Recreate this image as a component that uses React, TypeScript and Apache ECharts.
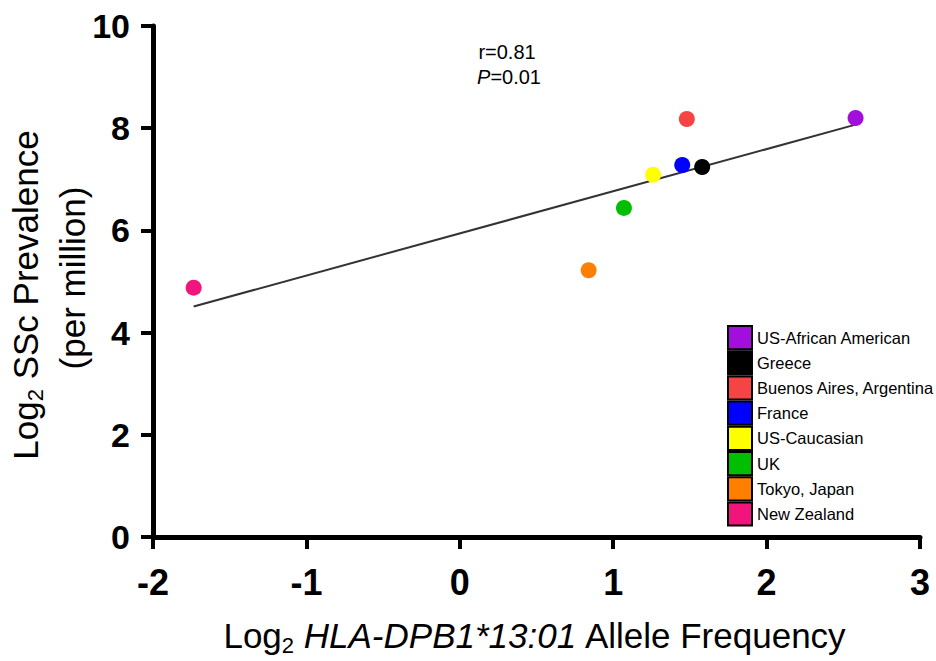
import React, { useEffect, useRef } from "react";
import * as echarts from "echarts";

const populations = [
  "US-African American",
  "Greece",
  "Buenos Aires, Argentina",
  "France",
  "US-Caucasian",
  "UK",
  "Tokyo, Japan",
  "New Zealand",
];
const alleleFreqLog2 = [2.58, 1.58, 1.48, 1.45, 1.26, 1.07, 0.84, -1.735];
const prevalenceLog2 = [8.2, 7.24, 8.18, 7.28, 7.09, 6.44, 5.22, 4.88];
const colors = ["#A20FDC", "#000000", "#F44444", "#0000FF", "#FFFF00", "#00BF00", "#FF8000", "#F0147C"];

const fitX = [-1.735, 2.58];
const fitY = [4.51, 8.07];

const xTicks = { min: -2, max: 3, interval: 1 };
const yTicks = { min: 0, max: 10, interval: 2 };

const FONT = "'Liberation Sans', Arial, sans-serif";

export default function App() {
  const ref = useRef<HTMLDivElement>(null);
  useEffect(() => {
    if (!ref.current) return;
    const chart = echarts.init(ref.current, undefined, { renderer: "svg" });
    const scatterSeries = populations.map((name, i) => ({
      name,
      type: "scatter",
      symbol: "circle",
      symbolSize: 16,
      itemStyle: { color: colors[i], opacity: 1 },
      data: [[alleleFreqLog2[i], prevalenceLog2[i]]],
      z: 3,
    }));
    const subRich = {
      n: { fontSize: 35, fontFamily: FONT, color: "#000", lineHeight: 37 },
      s: { fontSize: 22, fontFamily: FONT, color: "#000", lineHeight: 22, padding: [21, 0, 0, 0] },
      i: { fontSize: 35, fontFamily: FONT, color: "#000", fontStyle: "italic", lineHeight: 37 },
    };
    chart.setOption({
      animation: false,
      backgroundColor: "#fff",
      grid: { left: 153, right: 16, top: 26, bottom: 124, containLabel: false },
      xAxis: {
        type: "value",
        min: xTicks.min,
        max: xTicks.max,
        interval: xTicks.interval,
        splitLine: { show: false },
        axisLine: { show: true, onZero: false, lineStyle: { color: "#000", width: 5 } },
        axisTick: { show: true, length: 12, lineStyle: { color: "#000", width: 4 } },
        axisLabel: {
          margin: 27,
          color: "#000",
          fontSize: 36,
          fontWeight: "bold",
          fontFamily: FONT,
        },
      },
      yAxis: {
        type: "value",
        min: yTicks.min,
        max: yTicks.max,
        interval: yTicks.interval,
        splitLine: { show: false },
        axisLine: { show: true, onZero: false, lineStyle: { color: "#000", width: 5 } },
        axisTick: { show: true, length: 12, lineStyle: { color: "#000", width: 4 } },
        axisLabel: {
          margin: 23,
          color: "#000",
          fontSize: 34,
          fontWeight: "bold",
          fontFamily: FONT,
        },
      },
      legend: {
        orient: "vertical",
        left: 727,
        top: 325,
        padding: 0,
        itemGap: 0,
        itemWidth: 24,
        itemHeight: 23.2,
        icon: "rect",
        data: populations,
        itemStyle: { borderColor: "#000", borderWidth: 2, opacity: 1 },
        textStyle: { fontSize: 16.5, lineHeight: 17, fontFamily: FONT, color: "#000", padding: 0 },
        selectedMode: false,
      },
      series: [
        {
          name: "fit",
          type: "line",
          data: fitX.map((x, i) => [x, fitY[i]]),
          symbol: "none",
          lineStyle: { color: "#333", width: 2 },
          z: 2,
        },
        ...scatterSeries,
      ],
      graphic: [
        {
          type: "text",
          x: 507,
          y: 52,
          style: {
            text: "r=0.81",
            fontSize: 20,
            fontFamily: FONT,
            fill: "#000",
            align: "center",
            verticalAlign: "middle",
          },
        },
        {
          type: "text",
          x: 509,
          y: 77,
          style: {
            text: "{i|P}{n|=0.01}",
            align: "center",
            verticalAlign: "middle",
            rich: {
              i: { fontSize: 20, fontFamily: FONT, fontStyle: "italic", fill: "#000" },
              n: { fontSize: 20, fontFamily: FONT, fill: "#000" },
            },
          },
        },
        {
          type: "text",
          x: 535,
          y: 635,
          style: {
            text: "{n|Log}{s|2}{n| }{i|HLA-DPB1*13:01}{n| Allele Frequency}",
            align: "center",
            verticalAlign: "middle",
            rich: subRich,
          },
        },
        {
          type: "text",
          x: 25,
          y: 295,
          rotation: Math.PI / 2,
          style: {
            text: "{n|Log}{s|2}{n| SSc Prevalence}",
            align: "center",
            verticalAlign: "middle",
            rich: subRich,
          },
        },
        {
          type: "text",
          x: 72,
          y: 278,
          rotation: Math.PI / 2,
          style: {
            text: "(per million)",
            fontSize: 35,
            fontFamily: FONT,
            fill: "#000",
            align: "center",
            verticalAlign: "middle",
          },
        },
      ],
    });
    return () => chart.dispose();
  }, []);
  return (
    <div
      ref={ref}
      style={{ position: "fixed", left: 0, top: 0, width: 936, height: 661, background: "#fff" }}
    />
  );
}
